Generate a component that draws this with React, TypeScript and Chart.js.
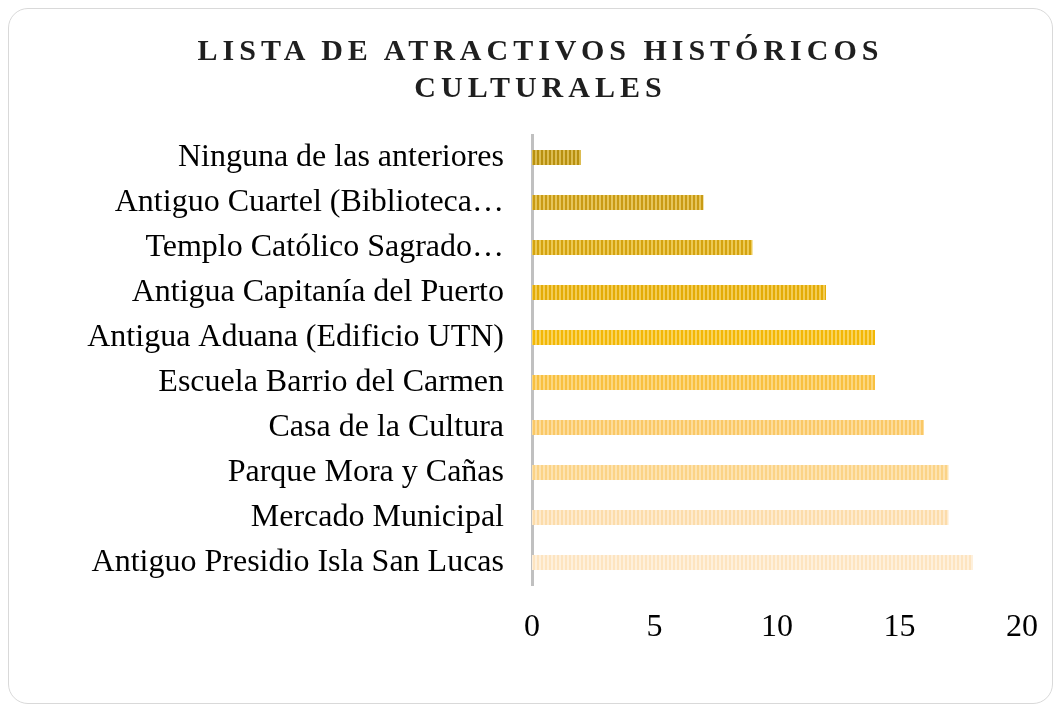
import React, { useEffect, useRef } from "react";
import { Chart, registerables } from "chart.js";

Chart.register(...registerables);

const titleLines = ["LISTA DE ATRACTIVOS HISTÓRICOS", "CULTURALES"];

const categories = [
  "Ninguna de las anteriores",
  "Antiguo Cuartel (Biblioteca…",
  "Templo Católico Sagrado…",
  "Antigua Capitanía del Puerto",
  "Antigua Aduana (Edificio UTN)",
  "Escuela Barrio del Carmen",
  "Casa de la Cultura",
  "Parque Mora y Cañas",
  "Mercado Municipal",
  "Antiguo Presidio Isla San Lucas",
];

const values = [2, 7, 9, 12, 14, 14, 16, 17, 17, 18];

const xTickValues = [0, 5, 10, 15, 20];

const baseColors = [
  "#b8900f",
  "#c99b14",
  "#d4a30f",
  "#e3ac07",
  "#f2b705",
  "#f8c040",
  "#fac866",
  "#fbd386",
  "#fcdcaa",
  "#fde4c0",
];

const stripeColors = [
  "#dcbc52",
  "#e6c55a",
  "#ecc955",
  "#f3cc55",
  "#f9d35c",
  "#fcd77f",
  "#fddc9a",
  "#fde3b0",
  "#feeacc",
  "#fef0dc",
];

function makePattern(base: string, stripe: string): CanvasPattern | string {
  const c = document.createElement("canvas");
  c.width = 4;
  c.height = 4;
  const g = c.getContext("2d");
  if (!g) return base;
  g.fillStyle = base;
  g.fillRect(0, 0, 4, 4);
  g.fillStyle = stripe;
  g.fillRect(2, 0, 2, 4);
  const p = g.createPattern(c, "repeat");
  return p || base;
}

const FONT = "'Liberation Serif', 'Times New Roman', serif";

export default function App() {
  const canvasRef = useRef<HTMLCanvasElement | null>(null);

  useEffect(() => {
    const canvas = canvasRef.current;
    if (!canvas) return;
    const patterns = baseColors.map((b, i) => makePattern(b, stripeColors[i]));
    const chart = new Chart(canvas, {
      type: "bar",
      data: {
        labels: categories,
        datasets: [
          {
            data: values,
            backgroundColor: patterns as any,
            borderWidth: 0,
            barPercentage: 0.333,
            categoryPercentage: 1,
          },
        ],
      },
      options: {
        indexAxis: "y",
        responsive: false,
        animation: false,
        layout: { padding: { top: 126, right: 30, bottom: 0, left: 0 } },
        plugins: {
          legend: { display: false },
          tooltip: { enabled: false },
          title: { display: false },
        },
        scales: {
          x: {
            min: 0,
            max: 20,
            afterBuildTicks: (scale: any) => {
              scale.ticks = xTickValues.map((v) => ({ value: v }));
            },
            afterFit: (scale: any) => {
              scale.height = 118;
              scale.paddingLeft = 0;
              scale.paddingRight = 0;
            },
            grid: { display: false, drawTicks: false },
            border: { display: false },
            ticks: {
              padding: 23,
              color: "#000000",
              font: { family: FONT, size: 32 },
            },
          },
          y: {
            afterFit: (scale: any) => {
              scale.width = 523;
              scale.paddingTop = 0;
              scale.paddingBottom = 0;
            },
            grid: { display: false, drawTicks: false },
            border: { display: true, color: "#c0c0c0", width: 3 },
            ticks: {
              padding: 28,
              color: "#000000",
              autoSkip: false,
              font: { family: FONT, size: 32 },
            },
          },
        },
      },
    });
    return () => chart.destroy();
  }, []);

  return (
    <div
      style={{
        position: "relative",
        width: 1045,
        height: 696,
        boxSizing: "border-box",
        border: "1px solid #d9d9d9",
        borderRadius: 20,
        background: "#ffffff",
        overflow: "hidden",
      }}
    >
      <canvas
        ref={canvasRef}
        width={1043}
        height={694}
        style={{ position: "absolute", left: 0, top: 0, width: 1043, height: 694 }}
      />
      <div
        style={{
          position: "absolute",
          left: 20,
          right: 0,
          top: 22,
          textAlign: "center",
          fontFamily: FONT,
          fontWeight: "bold",
          fontSize: 30,
          lineHeight: "37px",
          letterSpacing: "5px",
          color: "#1f1f1f",
        }}
      >
        {titleLines.map((t, i) => (
          <div key={i}>{t}</div>
        ))}
      </div>
    </div>
  );
}
